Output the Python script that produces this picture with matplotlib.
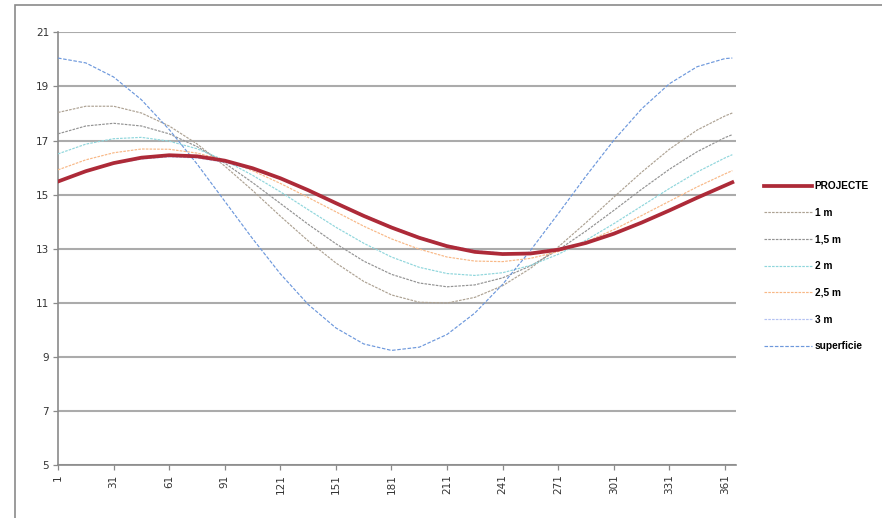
import matplotlib.pyplot as plt
from matplotlib.patches import Rectangle

# day of year for each sample
days = [1, 16, 31, 46, 61, 76, 91, 106, 121, 136, 151, 166, 181,
        196, 211, 226, 241, 256, 271, 286, 301, 316, 331, 346, 361, 365]

# soil temperature (degC) per depth
projecte = [15.49, 15.87, 16.17, 16.37, 16.46, 16.42, 16.26, 15.98, 15.61, 15.17, 14.69, 14.22, 13.79,
            13.41, 13.10, 12.89, 12.81, 12.83, 12.97, 13.22, 13.56, 13.97, 14.42, 14.89, 15.34, 15.46]
m1 = [18.04, 18.27, 18.27, 18.02, 17.54, 16.88, 16.06, 15.16, 14.21, 13.30, 12.48, 11.80, 11.30,
      11.03, 11.00, 11.21, 11.64, 12.28, 13.07, 13.97, 14.91, 15.83, 16.68, 17.39, 17.91, 18.02]
m1_5 = [17.25, 17.54, 17.64, 17.54, 17.25, 16.78, 16.17, 15.45, 14.68, 13.91, 13.19, 12.55, 12.06,
        11.74, 11.60, 11.67, 11.93, 12.37, 12.96, 13.66, 14.42, 15.20, 15.94, 16.59, 17.11, 17.22]
m2 = [16.51, 16.87, 17.07, 17.12, 16.98, 16.70, 16.27, 15.72, 15.11, 14.45, 13.80, 13.21, 12.70,
      12.32, 12.09, 12.02, 12.12, 12.39, 12.80, 13.32, 13.93, 14.58, 15.23, 15.84, 16.36, 16.48]
m2_5 = [15.92, 16.29, 16.55, 16.69, 16.68, 16.54, 16.27, 15.89, 15.42, 14.90, 14.37, 13.84, 13.37,
        12.99, 12.70, 12.55, 12.53, 12.65, 12.90, 13.26, 13.71, 14.23, 14.76, 15.29, 15.77, 15.89]
m3 = [15.48, 15.85, 16.14, 16.32, 16.40, 16.36, 16.20, 15.93, 15.58, 15.17, 14.72, 14.26, 13.83,
      13.45, 13.14, 12.94, 12.85, 12.87, 13.01, 13.25, 13.59, 14.00, 14.44, 14.90, 15.34, 15.45]
superficie = [20.05, 19.87, 19.35, 18.51, 17.41, 16.14, 14.76, 13.38, 12.08, 10.95, 10.08, 9.49, 9.25,
              9.37, 9.84, 10.63, 11.69, 12.94, 14.30, 15.69, 17.01, 18.17, 19.10, 19.73, 20.03, 20.05]

x_ticks = list(range(1, 362, 30))
y_ticks = list(range(5, 22, 2))

fig = plt.figure(figsize=(8.82, 5.18), dpi=100)
ax = fig.add_axes([0.0658, 0.1014, 0.7687, 0.8362])

# outer chart frame (runs off the right and bottom edge)
fig.patches.append(Rectangle((15 / 882, -0.2), 2.0, 1.2 - 5 / 518, transform=fig.transFigure,
                             fill=False, edgecolor="#8a8a8a", linewidth=1.2))

dash = (2.2, 1.0)
ax.plot(days, m1, color="#ada293", lw=0.85, dashes=dash, label="1 m", zorder=3)
ax.plot(days, m1_5, color="#939393", lw=0.85, dashes=dash, label="1,5 m", zorder=3)
ax.plot(days, m2, color="#8fd6dc", lw=0.85, dashes=dash, label="2 m", zorder=3)
ax.plot(days, m2_5, color="#f8b886", lw=0.85, dashes=dash, label="2,5 m", zorder=3)
ax.plot(days, m3, color="#b4c2f2", lw=0.85, dashes=dash, label="3 m", zorder=3)
ax.plot(days, superficie, color="#6d98dc", lw=0.85, dashes=(3, 1.4), label="superficie", zorder=3)
ax.plot(days, projecte, color="#ad2a38", lw=2.7, label="PROJECTE", zorder=4)

ax.set_xlim(1, 367)
ax.set_ylim(5, 21)
ax.set_xticks(x_ticks)
ax.set_xticklabels([str(t) for t in x_ticks], rotation=90, fontsize=7.5, color="#333333")
ax.set_yticks(y_ticks)
ax.set_yticklabels([str(t) for t in y_ticks], fontsize=7.5, color="#333333")
ax.tick_params(axis="both", direction="out", length=3.5, width=0.9, color="#8a8a8a", pad=3)

ax.grid(axis="y", color="#ababab", linewidth=1.5, zorder=1)
ax.set_axisbelow(True)
for side in ("top", "right"):
    ax.spines[side].set_visible(False)
for side in ("left", "bottom"):
    ax.spines[side].set_color("#8a8a8a")
    ax.spines[side].set_linewidth(1.2)

handles, labels = ax.get_legend_handles_labels()
order = [6, 0, 1, 2, 3, 4, 5]
leg = fig.legend([handles[i] for i in order], [labels[i] for i in order],
                 loc="center left", bbox_to_anchor=(0.866, 0.486), frameon=False,
                 handlelength=4.8, handletextpad=0.2, labelspacing=1.65,
                 borderpad=0, borderaxespad=0,
                 prop={"family": "Liberation Sans", "weight": "bold", "size": 7.3})

fig.savefig("out.png", dpi=100)
